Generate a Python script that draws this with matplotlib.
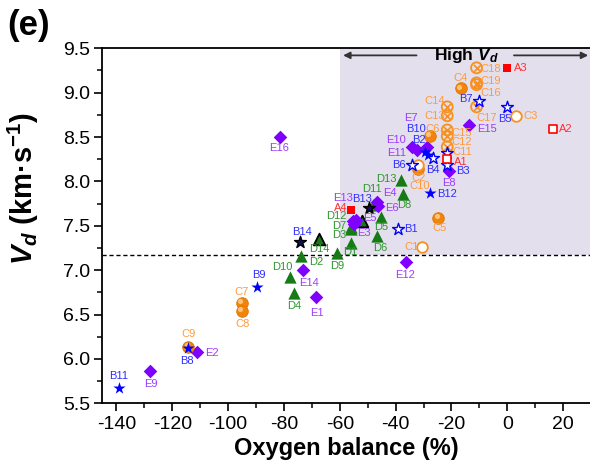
import matplotlib
matplotlib.use('Agg')
import matplotlib.pyplot as plt
from matplotlib.transforms import ScaledTranslation
from matplotlib.ticker import MultipleLocator

plt.rcParams['font.family'] = ['Liberation Sans', 'DejaVu Sans']
plt.rcParams['axes.unicode_minus'] = False
plt.rcParams['mathtext.fontset'] = 'custom'
plt.rcParams['mathtext.rm'] = 'Liberation Sans:bold'
plt.rcParams['mathtext.it'] = 'Liberation Sans:italic:bold'
plt.rcParams['mathtext.bf'] = 'Liberation Sans:bold'

# ---- data: oxygen balance (%) vs detonation velocity (km/s) ----
# A series (red squares)
a_fill_names = ['A3', 'A4']
a_fill_ob = [0.0, -55.8]
a_fill_vd = [9.28, 7.68]
a_open_names = ['A2', 'A1']
a_open_ob = [16.5, -21.5]
a_open_vd = [8.59, 8.25]

# B series (blue stars)
b_fill_names = ['B11', 'B8', 'B9', 'B12', 'B2', 'B10']
b_fill_ob = [-139.1, -114.3, -89.6, -27.7, -28.3, -29.3]
b_fill_vd = [5.67, 6.12, 6.81, 7.87, 8.30, 8.33]
b_open_names = ['B1', 'B6', 'B4', 'B7', 'B5', 'B3', '']
b_open_ob = [-39.3, -34.3, -26.5, -10.2, 0.0, -21.5, -21.5]
b_open_vd = [7.46, 8.18, 8.26, 8.91, 8.84, 8.19, 8.32]
b_dark_names = ['B14', 'B13']
b_dark_ob = [-74.3, -49.6]
b_dark_vd = [7.32, 7.70]

# C series (orange)
c_ball_names = ['C9', 'C7', 'C8', 'C5', 'C2', 'C6', 'C4']
c_ball_ob = [-114.3, -95.2, -95.2, -24.7, -31.9, -27.7, -16.6]
c_ball_vd = [6.14, 6.63, 6.54, 7.59, 8.14, 8.51, 9.05]
c_open_names = ['C1', 'C10', 'C3']
c_open_ob = [-30.7, -31.9, 3.3]
c_open_vd = [7.26, 8.18, 8.74]
c_cross_names = ['C18', 'C19', 'C16', 'C17', 'C14', 'C13', 'C15', 'C12', 'C11']
c_cross_ob = [-11.0, -11.0, -11.0, -11.0, -21.5, -21.5, -21.5, -21.5, -21.5]
c_cross_vd = [9.28, 9.11, 9.09, 8.84, 8.84, 8.74, 8.58, 8.51, 8.39]

# D series (green triangles)
d_names = ['D4', 'D10', 'D2', 'D9', 'D1', 'D3', 'D7', 'D5', 'D6', 'D11', 'D13', 'D8']
d_ob = [-76.3, -77.9, -74.0, -60.9, -56.1, -56.1, -56.1, -45.3, -46.6, -48.0, -37.9, -37.3]
d_vd = [6.74, 6.92, 7.16, 7.19, 7.31, 7.46, 7.49, 7.60, 7.39, 7.73, 8.02, 7.86]
d_dark_names = ['D14', 'D12']
d_dark_ob = [-67.5, -52.2]
d_dark_vd = [7.35, 7.55]

# E series (purple diamonds)
e_names = ['E9', 'E2', 'E1', 'E14', 'E16', 'E12', 'E13', 'E3', 'E5', 'E4', 'E6',
           'E8', 'E15', 'E10', 'E11', 'E7']
e_ob = [-127.8, -111.3, -68.5, -73.1, -81.3, -36.4, -55.2, -54.9, -54.3, -46.6, -46.2,
        -20.9, -13.6, -34.3, -32.5, -28.7]
e_vd = [5.86, 6.08, 6.70, 7.00, 8.50, 7.09, 7.55, 7.52, 7.56, 7.77, 7.72,
        8.12, 8.64, 8.39, 8.35, 8.39]

vd_threshold = 7.17

# label offsets (points) relative to each marker
offsets = {
    'A3': (10, 0), 'A2': (9, 0), 'A1': (10, -2), 'A4': (-8, 1),
    'B11': (0, 9), 'B8': (-1, -9.5), 'B9': (1, 9), 'B14': (1.5, 7), 'B13': (-5, 6.5),
    'B1': (9.5, 0), 'B12': (12, -1), 'B6': (-9, 0), 'B2': (-6.5, 10.5), 'B10': (-6.5, 16.5),
    'B4': (0, -8.5), 'B7': (-9, 1.5), 'B5': (-2, -8.5), 'B3': (11, -4.5),
    'C9': (0.5, 9), 'C7': (0, 8), 'C8': (0.5, -9), 'C1': (-7.5, 0), 'C5': (0.5, -7.5),
    'C10': (1, -15), 'C2': (0, -6.5), 'C6': (2, 5.5), 'C4': (0, 7), 'C3': (10, -0.5),
    'C18': (10, -1), 'C19': (10, 1.5), 'C16': (10, -6), 'C17': (7, -8), 'C14': (-9, 4),
    'C13': (-9, -0.5), 'C15': (10.5, -2.5), 'C12': (10.5, -4), 'C11': (10.5, -4),
    'D4': (0, -9.5), 'D10': (-5.5, 7.5), 'D2': (11.5, -4.5), 'D14': (0.5, -7),
    'D9': (0, -9), 'D1': (0, -7), 'D3': (-8, -4), 'D7': (-8, 0.5), 'D12': (-18, 3.5),
    'D5': (0.5, -7.5), 'D6': (2.5, -9), 'D11': (-1, 12), 'D13': (-10.5, 0.5), 'D8': (1, -8),
    'E9': (0, -9), 'E2': (11, -0.5), 'E1': (0.5, -11.5), 'E14': (4, -9), 'E16': (-1, -8),
    'E12': (-0.5, -9.5), 'E13': (-7.5, 17), 'E3': (7.5, -6.5), 'E5': (10, 1.5),
    'E4': (9, 6), 'E6': (9.5, -1), 'E8': (0, -8.5), 'E15': (13, -3),
    'E10': (-11, 5), 'E11': (-14.5, -2), 'E7': (-11.5, 21),
}

red = '#FF0000'
blue = '#0000FF'
orange = '#F7901E'
green = '#167A16'
purple = '#7F00FF'
lab_col = {'A': '#FF3030', 'B': '#2E2EFF', 'C': '#FF9A3C', 'D': '#2F962F', 'E': '#9C3CFF'}

fig = plt.figure(figsize=(5.90, 4.71), dpi=100)
ax = fig.add_axes([0.1737, 0.1437, 0.828, 0.7538])

# high-Vd region
ax.axvspan(-60, 30, ymin=(vd_threshold - 5.5) / 4.0, ymax=1, color='#E4DFEC', zorder=0, lw=0)
ax.axhline(vd_threshold, color='black', ls=(0, (3, 2)), lw=1.0, zorder=1)

# D triangles
ax.scatter(d_ob, d_vd, marker='^', s=78, color=green, lw=0, zorder=3)
ax.scatter(d_dark_ob, d_dark_vd, marker='^', s=70, facecolor=green, edgecolor='black', lw=1.3, zorder=3)

# E diamonds
ax.scatter(e_ob, e_vd, marker='D', s=48, color=purple, lw=0, zorder=4)

# C markers
ax.scatter(c_ball_ob, c_ball_vd, marker='o', s=70, facecolor='#F0850A', edgecolor='#E07500', lw=0.6, zorder=4)
shift = ax.transData + ScaledTranslation(-1.2 / 72, 1.2 / 72, fig.dpi_scale_trans)
ax.scatter(c_ball_ob, c_ball_vd, marker='o', s=14, color='#FFC27A', lw=0, zorder=4, transform=shift)
ax.scatter(c_open_ob, c_open_vd, marker='o', s=58, facecolor='white', edgecolor=orange, lw=1.3, zorder=4)
ax.scatter(c_cross_ob, c_cross_vd, marker='o', s=62, facecolor='none', edgecolor=orange, lw=1.3, zorder=4)
ax.scatter(c_cross_ob, c_cross_vd, marker='x', s=26, color=orange, lw=1.2, zorder=4)

# B stars
ax.scatter(b_fill_ob, b_fill_vd, marker='*', s=85, color=blue, lw=0, zorder=5)
ax.scatter(b_open_ob, b_open_vd, marker='*', s=80, facecolor='white', edgecolor=blue, lw=1.0, zorder=5)
ax.scatter(b_dark_ob, b_dark_vd, marker='*', s=80, facecolor='#101060', edgecolor='black', lw=1.0, zorder=5)

# A squares
ax.scatter(a_fill_ob, a_fill_vd, marker='s', s=40, color=red, lw=0, zorder=5)
ax.scatter(a_open_ob, a_open_vd, marker='s', s=32, facecolor='white', edgecolor=red, lw=1.2, zorder=5)

# point labels
groups = [
    (a_fill_names, a_fill_ob, a_fill_vd), (a_open_names, a_open_ob, a_open_vd),
    (b_fill_names, b_fill_ob, b_fill_vd), (b_open_names, b_open_ob, b_open_vd),
    (b_dark_names, b_dark_ob, b_dark_vd),
    (c_ball_names, c_ball_ob, c_ball_vd), (c_open_names, c_open_ob, c_open_vd),
    (c_cross_names, c_cross_ob, c_cross_vd),
    (d_names, d_ob, d_vd), (d_dark_names, d_dark_ob, d_dark_vd),
    (e_names, e_ob, e_vd),
]
for names, xs, ys in groups:
    for n, x, y in zip(names, xs, ys):
        if not n:
            continue
        ax.annotate(n, (x, y), xytext=offsets[n], textcoords='offset points',
                    ha='center', va='center', fontsize=8, color=lab_col[n[0]], zorder=6)

# "High Vd" banner with arrows
ax.text(-14.6, 9.415, r'High $V_d$', ha='center', va='center', fontsize=12.5, fontweight='bold')
arrow = dict(arrowstyle='-|>', color='#333333', lw=1.3, mutation_scale=10, shrinkA=0, shrinkB=0)
ax.annotate('', xy=(-58.8, 9.42), xytext=(-32.5, 9.42), arrowprops=arrow)
ax.annotate('', xy=(29.0, 9.42), xytext=(2.4, 9.42), arrowprops=arrow)

ax.set_xlim(-145, 30)
ax.set_ylim(5.5, 9.5)
ax.xaxis.set_major_locator(MultipleLocator(20))
ax.xaxis.set_minor_locator(MultipleLocator(10))
ax.yaxis.set_major_locator(MultipleLocator(0.5))
ax.yaxis.set_minor_locator(MultipleLocator(0.25))
ax.yaxis.set_major_formatter(plt.FormatStrFormatter('%.1f'))
ax.tick_params(which='major', direction='out', length=6, width=1.2, labelsize=14, pad=3)
ax.tick_params(which='minor', direction='out', length=3.5, width=1.1)
for sp in ax.spines.values():
    sp.set_linewidth(1.3)

ax.set_xlabel('Oxygen balance (%)', fontsize=17, fontweight='bold', labelpad=3)
ax.set_ylabel(r'$V_d$ (km·s$^{-1}$)', fontsize=21, fontweight='bold')
ax.yaxis.set_label_coords(-0.125, 0.605)
fig.text(0.012, 0.98, '(e)', fontsize=25, fontweight='bold', va='top', ha='left')

fig.savefig('out.png', dpi=100)
